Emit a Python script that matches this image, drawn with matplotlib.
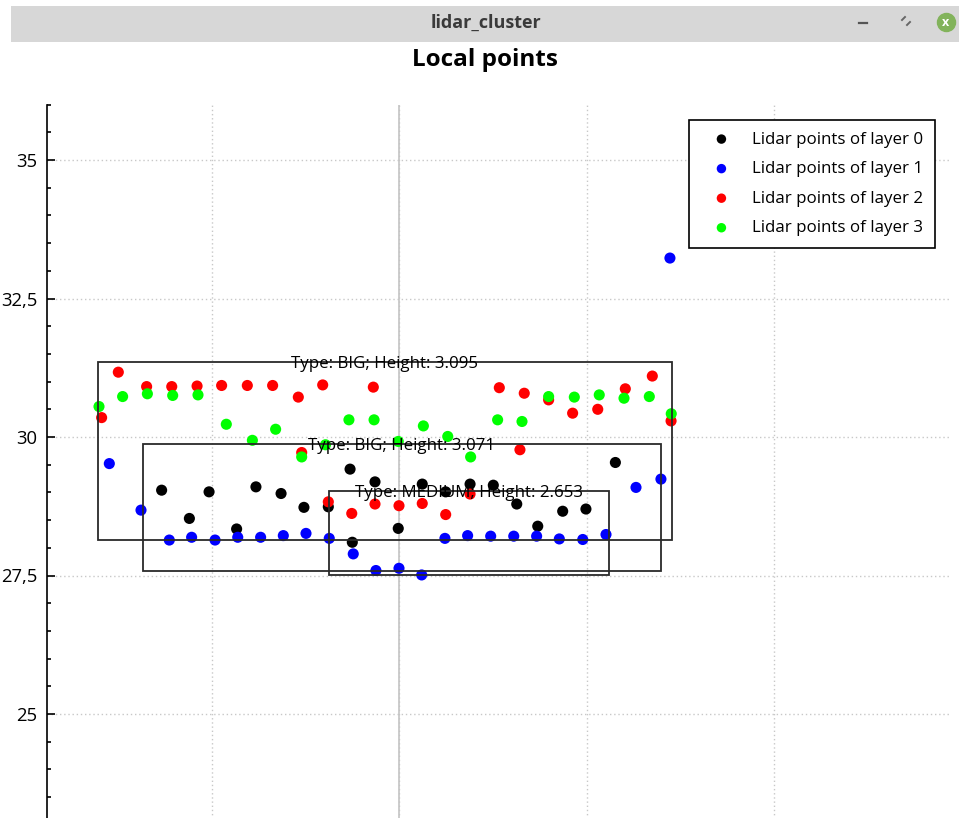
import matplotlib
matplotlib.use("Agg")
import matplotlib.pyplot as plt
from matplotlib.patches import Rectangle
from matplotlib.lines import Line2D
from matplotlib.ticker import MultipleLocator, FuncFormatter
import matplotlib.transforms as mtransforms

plt.rcParams['font.family'] = ['Open Sans', 'DejaVu Sans']

# Lidar points per layer (local frame: x lateral, y forward)
layer0_x = [-1.266, -1.118, -1.013, -0.866, -0.763, -0.629, -0.507, -0.377, -0.261, -0.249,
            -0.128, -0.004, 0.124, 0.249, 0.379, 0.503, 0.628, 0.740, 0.873, 0.997, 1.154]
layer0_y = [29.04, 28.53, 29.01, 28.34, 29.10, 28.98, 28.73, 28.74, 29.42, 28.10,
            29.19, 28.35, 29.15, 29.01, 29.15, 29.13, 28.79, 28.39, 28.66, 28.70, 29.54]

layer1_x = [-1.545, -1.376, -1.225, -1.106, -0.981, -0.860, -0.738, -0.617, -0.496, -0.372,
            -0.244, -0.123, 0.000, 0.121, 0.245, 0.366, 0.489, 0.612, 0.734, 0.855,
            0.980, 1.104, 1.264, 1.397, 1.445]
layer1_y = [29.52, 28.68, 28.14, 28.19, 28.14, 28.19, 28.19, 28.22, 28.26, 28.17,
            27.89, 27.59, 27.63, 27.51, 28.17, 28.22, 28.21, 28.21, 28.21, 28.16,
            28.15, 28.24, 29.09, 29.24, 33.23]

layer2_x = [-1.586, -1.497, -1.346, -1.212, -1.077, -0.946, -0.809, -0.674, -0.537, -0.519,
            -0.407, -0.377, -0.252, -0.137, -0.128, 0.000, 0.124, 0.249, 0.379, 0.535,
            0.645, 0.668, 0.798, 0.926, 1.060, 1.207, 1.351, 1.451]
layer2_y = [30.35, 31.17, 30.91, 30.91, 30.92, 30.93, 30.93, 30.93, 30.72, 29.72,
            30.94, 28.83, 28.62, 30.90, 28.79, 28.76, 28.80, 28.60, 28.97, 30.89,
            29.77, 30.79, 30.67, 30.43, 30.50, 30.87, 31.10, 30.29]

layer3_x = [-1.600, -1.474, -1.342, -1.207, -1.072, -0.921, -0.782, -0.658, -0.519, -0.392,
            -0.267, -0.133, -0.004, 0.130, 0.260, 0.382, 0.526, 0.656, 0.798, 0.935,
            1.068, 1.200, 1.335, 1.452]
layer3_y = [30.55, 30.73, 30.78, 30.75, 30.76, 30.23, 29.94, 30.14, 29.64, 29.86,
            30.31, 30.31, 29.92, 30.20, 30.01, 29.64, 30.31, 30.28, 30.73, 30.72,
            30.76, 30.70, 30.73, 30.42]

layer_names = ["Lidar points of layer 0", "Lidar points of layer 1",
               "Lidar points of layer 2", "Lidar points of layer 3"]
layer_colors = ["#000000", "#0000ff", "#ff0000", "#00ff00"]

# Cluster bounding boxes
box_x_min = [-1.607, -1.367, -0.372]
box_x_max = [1.454, 1.397, 1.120]
box_y_min = [28.14, 27.58, 27.51]
box_y_max = [31.35, 29.87, 29.03]
box_types = ["BIG", "BIG", "MEDIUM"]
box_heights = [3.095, 3.071, 2.653]

W, H = 959, 818
fig = plt.figure(figsize=(W / 100, H / 100), dpi=100)
fig.patch.set_facecolor("white")

# Window title bar
fig.patches.append(Rectangle((11 / W, 1 - 42 / H), (W - 11) / W, 36 / H,
                             transform=fig.transFigure, facecolor="#d7d7d7",
                             edgecolor="none", zorder=0))
fig.text(486 / W, 1 - 23 / H, "lidar_cluster", ha="center", va="center",
         fontsize=13, color="#3a3a3a", weight="bold")
fig.lines.append(Line2D([859 / W, 867 / W], [1 - 23 / H, 1 - 23 / H],
                        transform=fig.transFigure, color="#555555", lw=1.6))
fig.lines.append(Line2D([902 / W, 905 / W], [1 - 20 / H, 1 - 17 / H],
                        transform=fig.transFigure, color="#666666", lw=1.4))
fig.lines.append(Line2D([907 / W, 910 / W], [1 - 25 / H, 1 - 22 / H],
                        transform=fig.transFigure, color="#666666", lw=1.4))
fig.lines.append(Line2D([946 / W], [1 - 22 / H], transform=fig.transFigure,
                        marker="o", markersize=13, color="#82b35b", lw=0))
fig.text(946 / W, 1 - 22.5 / H, "x", ha="center", va="center", fontsize=9,
         color="white", weight="bold")

# Chart title
fig.text(485 / W, 1 - 60 / H, "Local points", ha="center", va="center",
         fontsize=17.5, weight="bold", color="black")

# Plot area (extends below the visible region)
x_lo, x_hi = (47 - 399) / 187.5, (950 - 399) / 187.5
y_lo, y_hi = 23.0, 36.0
px_top = 437 - (y_hi - 30) * 55.4
px_bot = 437 + (30 - y_lo) * 55.4
ax = fig.add_axes([47 / W, 1 - px_bot / H, (950 - 47) / W, (px_bot - px_top) / H])
ax.set_xlim(x_lo, x_hi)
ax.set_ylim(y_lo, y_hi)

for s in ["top", "right", "bottom"]:
    ax.spines[s].set_visible(False)
ax.spines["left"].set_color("black")
ax.spines["left"].set_linewidth(1.2)

ax.xaxis.set_major_locator(MultipleLocator(1.0))
ax.tick_params(axis="x", which="both", bottom=False, labelbottom=False)
ax.yaxis.set_major_locator(MultipleLocator(2.5))
ax.yaxis.set_minor_locator(MultipleLocator(0.5))
ax.yaxis.set_major_formatter(FuncFormatter(
    lambda v, p: ("%g" % v).replace(".", ",")))
ax.tick_params(axis="y", which="major", direction="in", length=6, width=1.2,
               color="black", labelsize=13.3, pad=7)
ax.tick_params(axis="y", which="minor", direction="in", length=3, width=1.2,
               color="black")

ax.grid(True, which="major", color="#c8c8c8", linestyle=(0, (1, 2)), linewidth=1)
ax.axvline(0, color="#c4c4c4", lw=1.2, zorder=1)
ax.set_axisbelow(True)

layers_x = [layer0_x, layer1_x, layer2_x, layer3_x]
layers_y = [layer0_y, layer1_y, layer2_y, layer3_y]
for xs, ys, name, col in zip(layers_x, layers_y, layer_names, layer_colors):
    ax.scatter(xs, ys, s=64, color=col, edgecolors="none", label=name, zorder=3)

# Box captions sit on the top edge, nudged a couple of pixels down
label_shift = mtransforms.offset_copy(ax.transData, fig=fig, x=0, y=-2, units="dots")
for x0, x1, y0, y1, t, h in zip(box_x_min, box_x_max, box_y_min, box_y_max,
                                box_types, box_heights):
    ax.add_patch(Rectangle((x0, y0), x1 - x0, y1 - y0, fill=False,
                           edgecolor="#2a2a2a", lw=1.3, zorder=4))
    ax.text((x0 + x1) / 2, y1, f"Type: {t}; Height: {h:.3f}", ha="center",
            va="center", fontsize=12.2, color="black", zorder=5,
            transform=label_shift)

leg = ax.legend(loc="upper right", bbox_to_anchor=(935 / W, 1 - 120 / H),
                bbox_transform=fig.transFigure, borderaxespad=0,
                frameon=True, fancybox=False, framealpha=1, edgecolor="black",
                fontsize=12.2, markerscale=0.85, handletextpad=0.6,
                borderpad=0.68, labelspacing=0.8, handlelength=2.45)
leg.get_frame().set_linewidth(1.2)

fig.savefig("out.png", dpi=100)
